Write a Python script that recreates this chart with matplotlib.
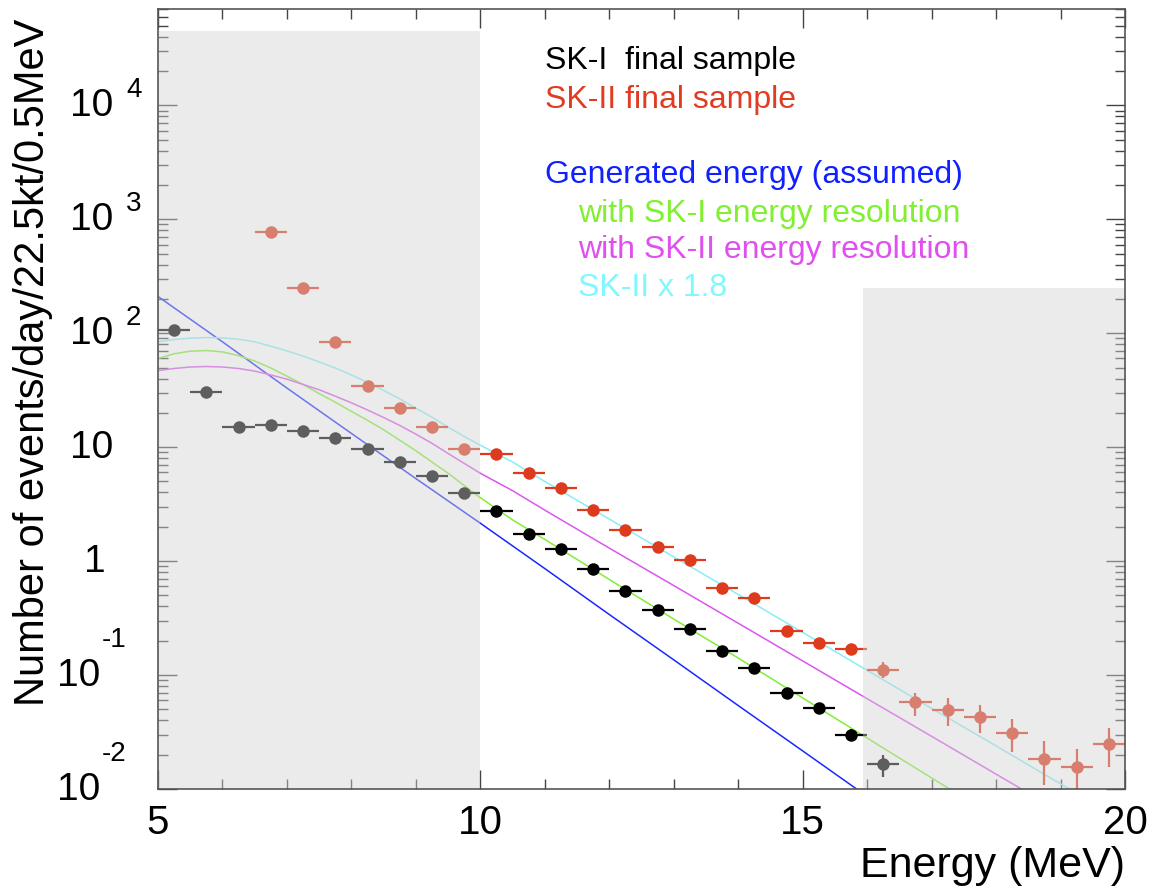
import matplotlib
matplotlib.use("Agg")
import matplotlib.pyplot as plt
import matplotlib.patches as mpatches
import matplotlib.transforms as mtransforms
from matplotlib import font_manager
from matplotlib.ticker import FixedLocator, LogLocator, NullFormatter

# --- fonts (ROOT-like Helvetica / Helvetica Narrow) ---
names = {f.name for f in font_manager.fontManager.ttflist}
NARROW = "Liberation Sans Narrow" if "Liberation Sans Narrow" in names else "Liberation Sans"
REG = "Liberation Sans"

# --- data: 0.5 MeV bins ---
sk1_e = [5.25, 5.75, 6.25, 6.75, 7.25, 7.75, 8.25, 8.75, 9.25, 9.75,
         10.25, 10.75, 11.25, 11.75, 12.25, 12.75, 13.25, 13.75, 14.25, 14.75,
         15.25, 15.75, 16.25]
sk1_n = [107, 30.7, 15.1, 15.7, 13.9, 12.1, 9.7, 7.4, 5.6, 3.98,
         2.76, 1.73, 1.28, 0.853, 0.547, 0.372, 0.254, 0.163, 0.115, 0.0695,
         0.0513, 0.0297, 0.0165]
sk1_lo = [0] * 21 + [0.0033, 0.0037]
sk1_hi = [0] * 21 + [0.0036, 0.0034]

sk2_e = [6.75, 7.25, 7.75, 8.25, 8.75, 9.25, 9.75,
         10.25, 10.75, 11.25, 11.75, 12.25, 12.75, 13.25, 13.75, 14.25, 14.75,
         15.25, 15.75, 16.25, 16.75, 17.25, 17.75, 18.25, 18.75, 19.25, 19.75]
sk2_n = [766, 247, 84.3, 34.7, 22.2, 15.1, 9.7,
         8.75, 5.96, 4.4, 2.82, 1.88, 1.33, 1.02, 0.581, 0.475, 0.243,
         0.191, 0.169, 0.111, 0.058, 0.0492, 0.0428, 0.031, 0.0183, 0.0156, 0.0248]
sk2_lo = [0] * 18 + [0.012, 0.016, 0.0143, 0.0134, 0.0116, 0.0099, 0.0075, 0.0075, 0.0093]
sk2_hi = [0] * 18 + [0.013, 0.018, 0.012, 0.0131, 0.0114, 0.0099, 0.0079, 0.0070, 0.0093]

# --- curves ---
gen_e = [5, 6, 7, 8, 9, 10, 11, 12, 13, 14, 15, 16]
gen_n = [210, 84, 33, 13.2, 5.3, 2.15, 0.86, 0.34, 0.136, 0.054, 0.0216, 0.0086]

res1_e = [5.0, 5.25, 5.5, 5.75, 6.0, 6.25, 6.5, 6.75, 7.0, 7.25, 7.5, 7.75,
          8.0, 8.25, 8.5, 8.75, 9.0, 9.25, 9.5, 9.75, 10.0, 10.5,
          11.0, 12.0, 13.0, 14.0, 15.0, 16.0, 17.0, 18.0]
res1_n = [60, 66, 69.5, 70.5, 68.5, 63.5, 57, 49.5, 42, 35.5, 29.5, 24.8,
          20.6, 17.2, 14.2, 11.5, 9.3, 7.4, 5.9, 4.6, 3.6, 2.3,
          1.55, 0.69, 0.31, 0.141, 0.063, 0.028, 0.0125, 0.0056]

res2_e = [5.0, 5.25, 5.5, 5.75, 6.0, 6.25, 6.5, 6.75, 7.0, 7.25, 7.5, 7.75,
          8.0, 8.25, 8.5, 8.75, 9.0, 9.25, 9.5, 9.75, 10.0, 10.5,
          11.0, 12.0, 13.0, 14.0, 15.0, 16.0, 17.0, 18.0, 19.0]
res2_n = [47, 49, 50.5, 51, 50.5, 49, 46.5, 43, 39.5, 35.5, 31.9, 28,
          24.5, 21.2, 18.2, 15.5, 13, 10.8, 8.8, 7.2, 5.9, 4.15,
          2.8, 1.3, 0.61, 0.285, 0.133, 0.062, 0.029, 0.0135, 0.0063]

scl_e = [5.0, 5.25, 5.5, 5.75, 6.0, 6.25, 6.5, 6.75, 7.0, 7.25, 7.5, 7.75,
         8.0, 8.25, 8.5, 8.75, 9.0, 9.25, 9.5, 9.75, 10.0, 10.5,
         11.0, 12.0, 13.0, 14.0, 15.0, 16.0, 17.0, 18.0, 19.0, 20.0]
scl_n = [84, 88, 90.5, 91.5, 91, 88.5, 84, 77, 70, 63, 56, 49.5,
         43, 37, 31.5, 26.5, 22, 18.3, 15, 12.4, 10.4, 7.4,
         5.0, 2.34, 1.09, 0.51, 0.237, 0.110, 0.051, 0.0239, 0.0111, 0.0052]

# shaded (excluded) regions: (x0, x1, ytop)
BOXES = [(5.0, 10.0, 4.5e4), (15.93, 20.0, 250)]

C_BLUE, C_GREEN, C_MAG, C_CYAN = "#1a28ff", "#80ee33", "#dc55f0", "#88eef5"
C_RED = "#dd3a1e"
YMIN, YMAX = 0.01, 7.0e4

fig = plt.figure(figsize=(11.53, 8.87), dpi=100)
ax = fig.add_axes([158 / 1153, 1 - 790 / 887, (1125 - 158) / 1153, (790 - 10) / 887])
ax.set_yscale("log")
ax.set_xlim(5, 20)
ax.set_ylim(YMIN, YMAX)

lw = 1.1
ax.plot(gen_e, gen_n, color=C_BLUE, lw=lw, zorder=2)
ax.plot(res1_e, res1_n, color=C_GREEN, lw=lw, zorder=2)
ax.plot(res2_e, res2_n, color=C_MAG, lw=lw, zorder=2)
ax.plot(scl_e, scl_n, color=C_CYAN, lw=lw, zorder=2)

ekw = dict(fmt="o", ms=9, elinewidth=1.6, capsize=0, zorder=3, markeredgewidth=0)
ax.errorbar(sk1_e, sk1_n, xerr=0.25, yerr=[sk1_lo, sk1_hi], color="black", ecolor="black", **ekw)
ax.errorbar(sk2_e, sk2_n, xerr=0.25, yerr=[sk2_lo, sk2_hi], color=C_RED, ecolor=C_RED, **ekw)

for x0, x1, ytop in BOXES:
    ax.add_patch(mpatches.Rectangle((x0, YMIN), x1 - x0, ytop - YMIN,
                                    facecolor="#d3d3d3", alpha=0.45,
                                    edgecolor="none", zorder=4))

# axis frame & ticks (ROOT style, inward on all sides)
for s in ax.spines.values():
    s.set_color("#555555")
    s.set_linewidth(1.2)
    s.set_zorder(6)
ax.xaxis.set_major_locator(FixedLocator([5, 10, 15, 20]))
ax.xaxis.set_minor_locator(FixedLocator(range(5, 21)))
ax.yaxis.set_major_locator(LogLocator(base=10, numticks=20))
ax.yaxis.set_minor_locator(LogLocator(base=10, subs=range(2, 10), numticks=20))
ax.yaxis.set_major_formatter(NullFormatter())
ax.yaxis.set_minor_formatter(NullFormatter())
ax.tick_params(which="both", direction="in", top=True, right=True, color="#444444", width=1.0)
ax.tick_params(which="major", length=14)
ax.tick_params(which="minor", length=7.2)
ax.tick_params(axis="x", which="major", labelsize=29, pad=10)
for lab in ax.get_xticklabels():
    lab.set_family(NARROW)

# y tick labels written as "10" with a raised exponent (ROOT style)
tr = mtransforms.blended_transform_factory(fig.transFigure, ax.transData)
ylabels = [(1e4, "10", "4"), (1e3, "10", "3"), (1e2, "10", "2"), (10, "10", None),
           (1, "1", None), (0.1, "10", "-1"), (0.01, "10", "-2")]
for yv, base, exp in ylabels:
    neg = exp is not None and exp.startswith("-")
    xr = 100 if neg else (106 if base == "1" else 113)
    ax.text(xr / 1153, yv, base, transform=tr, ha="right", va="center",
            fontsize=28, family=REG, clip_on=False)
    if exp is not None:
        if neg:
            ax.text(102 / 1153, yv * 10 ** (36 / 113.8), exp, transform=tr,
                    ha="left", va="center", fontsize=20, family=REG, clip_on=False)
        else:
            ax.text(126 / 1153, yv * 10 ** (16 / 113.8), exp, transform=tr,
                    ha="left", va="center", fontsize=20, family=REG, clip_on=False)

fig.text(33 / 1153, 1 - 362 / 887, "Number of events/day/22.5kt/0.5MeV",
         rotation=90, ha="center", va="center", fontsize=30, family=NARROW)
fig.text(1125 / 1153, 1 - 866 / 887, "Energy (MeV)", ha="right", va="center",
         fontsize=31, family=NARROW)

# legend-like labels
legend_items = [
    (545, 61, "SK-I  final sample", "black"),
    (545, 100, "SK-II final sample", "#e03c22"),
    (545, 175, "Generated energy (assumed)", "#1020ff"),
    (578, 214, "with SK-I energy resolution", "#80f030"),
    (578, 250, "with SK-II energy resolution", "#e050f0"),
    (578, 288, "SK-II x 1.8", "#80f8ff"),
]
for px, py, txt, col in legend_items:
    fig.text(px / 1153, 1 - py / 887, txt, ha="left", va="center",
             fontsize=23, family=REG, color=col, zorder=7)

fig.savefig("out.png", dpi=100)
